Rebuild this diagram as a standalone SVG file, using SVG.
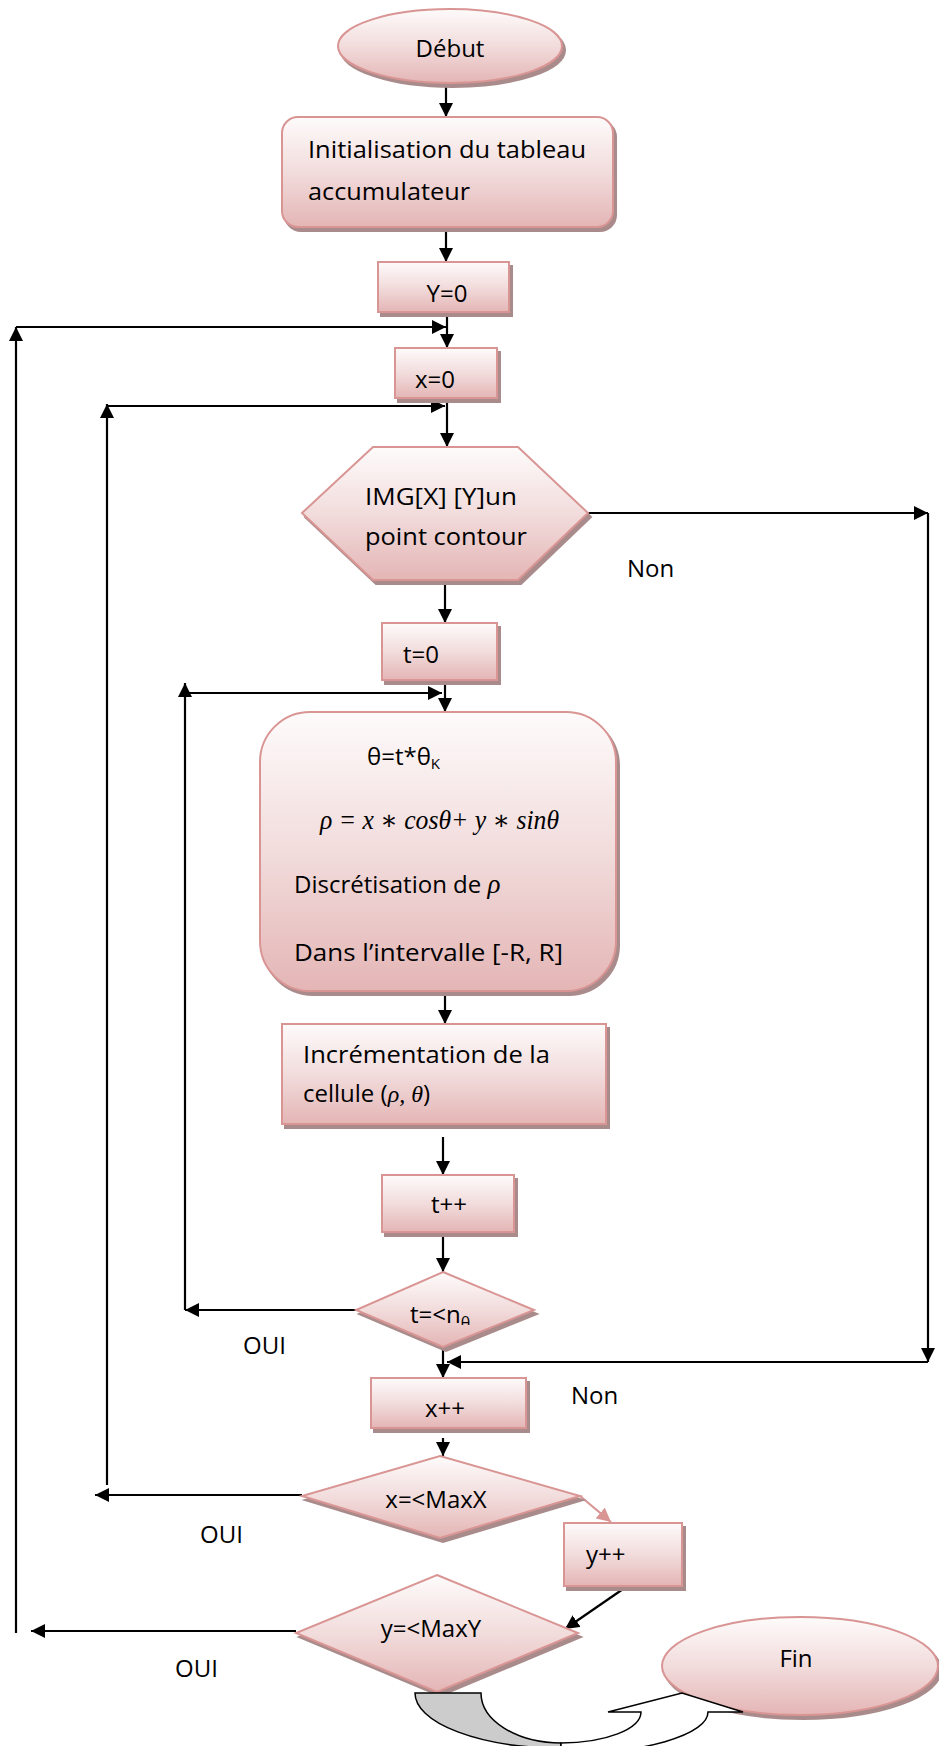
<svg xmlns="http://www.w3.org/2000/svg" width="939" height="1746" viewBox="0 0 939 1746">
  <defs>
    <linearGradient id="pink" x1="0" y1="0" x2="0" y2="1">
      <stop offset="0" stop-color="#fefbfb"/>
      <stop offset="0.5" stop-color="#f2dcdc"/>
      <stop offset="1" stop-color="#e4b5b5"/>
    </linearGradient>
    <filter id="shadow" x="-5%" y="-5%" width="115%" height="125%">
      <feOffset in="SourceAlpha" dx="3" dy="4" result="off"/>
      <feFlood flood-color="#a98b8b"/>
      <feComposite in2="off" operator="in" result="sh"/>
      <feMerge>
        <feMergeNode in="sh"/>
        <feMergeNode in="SourceGraphic"/>
      </feMerge>
    </filter>
    <marker id="arrow" viewBox="0 0 10 10" refX="10" refY="5" markerWidth="14" markerHeight="14" markerUnits="userSpaceOnUse" orient="auto">
      <path d="M0,0 L10,5 L0,10 Z" fill="#000"/>
    </marker>
    <marker id="arrowPink" viewBox="0 0 10 10" refX="10" refY="5" markerWidth="14" markerHeight="14" markerUnits="userSpaceOnUse" orient="auto">
      <path d="M0,0 L10,5 L0,10 Z" fill="#d99594"/>
    </marker>
    <clipPath id="clipCond">
      <rect x="350" y="1270" width="190" height="55"/>
    </clipPath>
  </defs>
  <style>
    .shape { fill: url(#pink); stroke: #d99594; stroke-width: 2; filter: url(#shadow); }
    .txt { font-family: "Open Sans", "Liberation Sans", sans-serif; font-size: 24px; fill: #000; }
    .mid { text-anchor: middle; }
    .math { font-family: "Liberation Serif", "DejaVu Serif", serif; font-style: italic; }
    .big { font-size: 27px; }
    .conn path { fill: none; stroke: #000; stroke-width: 2.2; marker-end: url(#arrow); }
    .conn path.pinkline { stroke: #d99594; marker-end: url(#arrowPink); }
  </style>

  <rect width="939" height="1746" fill="#fff"/>

  <!-- connectors -->
  <g id="connectors" class="conn">
    <path d="M446,84 V117"/>
    <path d="M446,228 V262"/>
    <path d="M447,313 V348"/>
    <path d="M16,1633 V327"/>
    <path d="M16,327 H446"/>
    <path d="M107,1485 V404"/>
    <path d="M107,406 H445"/>
    <path d="M447,399 V447"/>
    <path d="M588,513 H928"/>
    <path d="M928,513 V1362"/>
    <path d="M928,1362 H447"/>
    <path d="M445,582 V623"/>
    <path d="M185,1310 V683"/>
    <path d="M185,693 H442"/>
    <path d="M445,681 V712"/>
    <path d="M445,992 V1024"/>
    <path d="M443,1137 V1175"/>
    <path d="M443,1233 V1272"/>
    <path d="M356,1310 H185"/>
    <path d="M443,1347 V1378"/>
    <path d="M443,1438 V1456"/>
    <path d="M302,1495 H95"/>
    <path class="pinkline" d="M580,1496 L611,1522"/>
    <path d="M626,1587 L565,1629"/>
    <path d="M296,1631 H31"/>
  </g>

  <!-- branch labels -->
  <g id="labels" class="txt">
    <text x="627" y="577">Non</text>
    <text x="243" y="1354">OUI</text>
    <text x="571" y="1404">Non</text>
    <text x="200" y="1543">OUI</text>
    <text x="175" y="1677">OUI</text>
  </g>

  <g id="debut">
    <ellipse class="shape" cx="450" cy="46" rx="112" ry="37"/>
    <text class="txt mid" x="450" y="57">Début</text>
  </g>

  <g id="init">
    <rect class="shape" x="282" y="117" width="331" height="110" rx="16"/>
    <text class="txt" x="308" y="158" textLength="278" lengthAdjust="spacingAndGlyphs">Initialisation du tableau</text>
    <text class="txt" x="308" y="200" textLength="162" lengthAdjust="spacingAndGlyphs">accumulateur</text>
  </g>

  <g id="y0">
    <rect class="shape" x="378" y="262" width="131" height="50"/>
    <text class="txt mid" x="447" y="302">Y=0</text>
  </g>

  <g id="x0">
    <rect class="shape" x="395" y="348" width="102" height="50"/>
    <text class="txt" x="415" y="388">x=0</text>
  </g>

  <g id="contour">
    <polygon class="shape" points="302,513 373,447 518,447 588,513 518,580 373,580"/>
    <text class="txt" x="365" y="505" textLength="152" lengthAdjust="spacingAndGlyphs">IMG[X] [Y]un</text>
    <text class="txt" x="365" y="545" textLength="162" lengthAdjust="spacingAndGlyphs">point contour</text>
  </g>

  <g id="t0">
    <rect class="shape" x="382" y="623" width="115" height="57"/>
    <text class="txt" x="403" y="663">t=0</text>
  </g>

  <g id="calcul">
    <rect class="shape" x="260" y="712" width="356" height="279" rx="50"/>
    <text class="txt" x="367" y="765" font-size="25">θ=t*θ<tspan font-size="15" dy="4">K</tspan></text>
    <text class="txt math big" x="320" y="829" textLength="239" lengthAdjust="spacingAndGlyphs">ρ = x ∗ cosθ+ y ∗ sinθ</text>
    <text class="txt" x="294" y="893">Discrétisation de <tspan class="math big">ρ</tspan></text>
    <text class="txt" x="294" y="961" textLength="269" lengthAdjust="spacingAndGlyphs">Dans l’intervalle [-R, R]</text>
  </g>

  <g id="increment">
    <rect class="shape" x="282" y="1024" width="324" height="100"/>
    <text class="txt" x="303" y="1063" textLength="247" lengthAdjust="spacingAndGlyphs">Incrémentation de la</text>
    <text class="txt" x="303" y="1102">cellule (<tspan class="math">ρ, θ</tspan>)</text>
  </g>

  <g id="tinc">
    <rect class="shape" x="382" y="1175" width="132" height="57"/>
    <text class="txt mid" x="449" y="1213">t++</text>
  </g>

  <g id="testT">
    <polygon class="shape" points="443,1272 534,1310 443,1347 356,1310"/>
    <text class="txt" x="410" y="1323" clip-path="url(#clipCond)">t=&lt;n<tspan font-size="16" dy="6">θ</tspan></text>
  </g>

  <g id="xinc">
    <rect class="shape" x="371" y="1378" width="155" height="50"/>
    <text class="txt mid" x="445" y="1417">x++</text>
  </g>

  <g id="testX">
    <polygon class="shape" points="440,1456 580,1496 440,1538 302,1496"/>
    <text class="txt mid" x="436" y="1508">x=&lt;MaxX</text>
  </g>

  <g id="yinc">
    <rect class="shape" x="564" y="1523" width="118" height="63"/>
    <text class="txt" x="586" y="1563">y++</text>
  </g>

  <g id="testY">
    <polygon class="shape" points="437,1575 578,1633 437,1692 296,1633"/>
    <text class="txt mid" x="431" y="1637">y=&lt;MaxY</text>
  </g>

  <g id="fin">
    <ellipse class="shape" cx="800" cy="1666" rx="138" ry="49"/>
    <text class="txt mid" x="796" y="1667">Fin</text>
  </g>

  <!-- curved block arrow leading to Fin -->
  <g id="curvedArrow" stroke="#000" stroke-width="1.5" stroke-linejoin="miter">
    <path d="M415,1693 H481 A80,50 0 0 0 561,1743 L561,1748 A146,55 0 0 1 415,1693 Z" fill="#cccccc"/>
    <path d="M561,1743 A80,31 0 0 0 641,1712 L608,1712 L682,1693 L743,1712 L708,1712 A147,42 0 0 1 561,1754 Z" fill="#fff"/>
  </g>
</svg>
